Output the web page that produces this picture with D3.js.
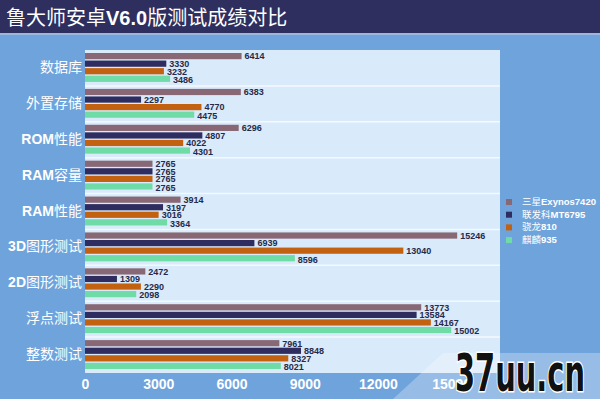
<!DOCTYPE html>
<html><head><meta charset="utf-8">
<script src="https://cdn.jsdelivr.net/npm/d3@7"></script>
<style>html,body{margin:0;padding:0;background:#6fa3dc;} svg{display:block;}</style>
</head><body><svg id="c" width="600" height="399"></svg>
<script>
const titleText = "鲁大师安卓V6.0版测试成绩对比";
const categories = ["数据库", "外置存储", "ROM性能", "RAM容量", "RAM性能", "3D图形测试", "2D图形测试", "浮点测试", "整数测试"];
const seriesNames = ["三星Exynos7420", "联发科MT6795", "骁龙810", "麒麟935"];
const exynos7420 = [6414, 6383, 6296, 2765, 3914, 15246, 2472, 13773, 7961];
const mt6795     = [3330, 2297, 4807, 2765, 3197, 6939, 1309, 13584, 8848];
const sd810      = [3232, 4770, 4022, 2765, 3016, 13040, 2290, 14167, 8327];
const kirin935   = [3486, 4475, 4301, 2765, 3364, 8596, 2098, 15002, 8021];
const seriesValues = [exynos7420, mt6795, sd810, kirin935];
const seriesColors = ["#876874", "#2f2d5f", "#c2610f", "#6fdba6"];
const tickValues = [0, 3000, 6000, 9000, 12000, 15000];
const watermark = "37uu.cn";

const W = 600, H = 399;
const plot = {left: 85, right: 500, top: 50, bottom: 373};
const FONT = "'Liberation Sans', Arial, 'Noto Sans CJK SC', sans-serif";
const svg = d3.select("#c");

function richText(sel, str) {
  str.split(/([A-Za-z0-9.]+)/).filter(s => s.length).forEach(p => {
    sel.append("tspan").text(p)
      .attr("font-weight", /^[A-Za-z0-9.]+$/.test(p) ? "bold" : "normal");
  });
}

// backgrounds
svg.append("rect").attr("width", W).attr("height", H).attr("fill", "#6fa3dc");
svg.append("rect").attr("width", W).attr("height", 33).attr("fill", "#2e2f5f");
svg.append("rect").attr("y", 33).attr("width", W).attr("height", 2).attr("fill", "#9db7dc");
svg.append("rect").attr("x", plot.left).attr("y", plot.top)
  .attr("width", plot.right - plot.left).attr("height", plot.bottom - plot.top)
  .attr("fill", "#d9eafb");

// title
const title = svg.append("text").attr("x", 6).attr("y", 25)
  .attr("font-family", FONT).attr("font-size", 20).attr("fill", "#ffffff");
richText(title, titleText);

// scales
const x = d3.scaleLinear().domain([0, 17000]).range([plot.left, plot.right]);
const y0 = d3.scaleBand().domain(categories).range([plot.top, plot.bottom]);
const y1 = d3.scaleBand().domain(d3.range(seriesNames.length))
  .range([3, y0.bandwidth() - 4]).paddingInner(0.18);

// group separators
svg.append("g").selectAll("line").data(categories.slice(1)).join("line")
  .attr("x1", plot.left).attr("x2", plot.right)
  .attr("y1", d => y0(d)).attr("y2", d => y0(d))
  .attr("stroke", "#f4f9ff").attr("stroke-width", 1.5);

// bars
const groups = svg.append("g").selectAll("g").data(categories).join("g")
  .attr("transform", d => `translate(0,${y0(d)})`);

const cells = groups.selectAll("g.cell")
  .data((c, ci) => seriesValues.map((vals, si) => ({si, v: vals[ci]})))
  .join("g").attr("class", "cell");

cells.append("rect")
  .attr("x", x(0))
  .attr("y", d => y1(d.si))
  .attr("width", d => x(d.v) - x(0))
  .attr("height", y1.bandwidth())
  .attr("fill", d => seriesColors[d.si]);

cells.append("text")
  .attr("x", d => x(d.v) + 3)
  .attr("y", d => y1(d.si) + y1.bandwidth() / 2 + 1 + (d.si === 3 ? 1 : 0))
  .attr("dominant-baseline", "middle")
  .attr("font-family", FONT).attr("font-size", 9).attr("font-weight", "bold")
  .attr("fill", "#262a4a")
  .text(d => d.v);

// category labels
svg.append("g").selectAll("text").data(categories).join("text")
  .attr("x", 82).attr("y", d => y0(d) + y0.bandwidth() / 2)
  .attr("text-anchor", "end").attr("dominant-baseline", "middle")
  .attr("font-family", FONT).attr("font-size", 14).attr("fill", "#ffffff")
  .each(function(d) { richText(d3.select(this), d); });

// x axis
const axis = svg.append("g").attr("transform", `translate(0,${plot.bottom})`)
  .call(d3.axisBottom(x).tickValues(tickValues).tickFormat(d3.format("d")).tickSize(0).tickPadding(6));
axis.select(".domain").remove();
axis.selectAll("text").attr("font-family", FONT).attr("font-size", 14)
  .attr("font-weight", "bold").attr("fill", "#ffffff");

// legend
const leg = svg.append("g").selectAll("g").data(seriesNames).join("g")
  .attr("transform", (d, i) => `translate(506,${202 + i * 12.7})`);
leg.append("rect").attr("x", 0).attr("y", -3).attr("width", 6).attr("height", 6)
  .attr("fill", (d, i) => seriesColors[i]);
leg.append("text").attr("x", 16).attr("y", 0).attr("dominant-baseline", "middle")
  .attr("font-family", FONT).attr("font-size", 9.5).attr("fill", "#ffffff")
  .each(function(d) { richText(d3.select(this), d); });

// watermark
svg.append("polygon").attr("points", "393,399 443,353 600,353 600,399")
  .attr("fill", "#ffffff").attr("opacity", 0.28);
svg.append("text").attr("x", 455).attr("y", 391)
  .attr("font-family", "'DejaVu Sans', sans-serif").attr("font-weight", "bold")
  .attr("font-size", 52).attr("textLength", 130).attr("lengthAdjust", "spacingAndGlyphs")
  .attr("fill", "#111111").attr("stroke", "#ffffff").attr("stroke-width", 3)
  .attr("paint-order", "stroke").text(watermark);
</script></body></html>
